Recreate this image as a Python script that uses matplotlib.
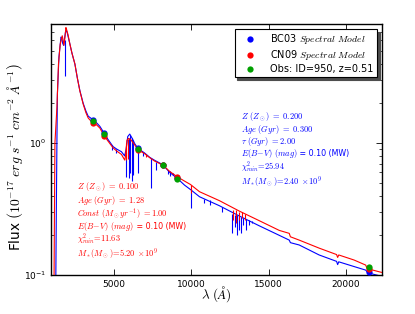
import matplotlib
matplotlib.use("Agg")
import matplotlib.pyplot as plt
from matplotlib.ticker import LogLocator, FixedLocator, LogFormatterSciNotation, NullFormatter

plt.rcParams['mathtext.fontset'] = 'cm'
plt.rcParams['font.family'] = 'DejaVu Sans'

# ---- BC03 model (blue) continuum ----
bc_wl = [1250, 1290, 1330, 1360, 1460, 1590, 1640, 1700, 1760, 1800, 1880, 1930, 2000,
         2170, 2300, 2490, 2650, 2810, 3025, 3200, 3346, 3500, 3670, 3900, 4099, 4376,
         4614, 4955, 5190, 5495, 5700, 5800, 5900, 6030, 6200, 6350, 6564, 6995, 7317,
         7640, 8173, 8604, 9100, 9569, 10000, 10534, 11821, 13108, 14395, 15680, 16325,
         16400, 16969, 18255, 19380, 19450, 19520, 20510, 21262, 21400, 22117, 22400]
bc_flux = [0.07, 0.3, 1.05, 2.35, 4.5, 6.35, 6.3, 5.7, 5.5, 6.0, 6.9, 7.2, 6.8,
           5.6, 4.8, 3.97, 3.1, 2.5, 2.0, 1.75, 1.6, 1.55, 1.5, 1.42, 1.34, 1.19,
           1.07, 0.94, 0.9, 0.86, 0.8, 0.9, 1.12, 1.17, 1.08, 0.99, 0.91, 0.84, 0.78,
           0.74, 0.685, 0.6, 0.54, 0.48, 0.44, 0.392, 0.335, 0.28, 0.236, 0.2, 0.184,
           0.176, 0.169, 0.142, 0.127, 0.12, 0.126, 0.116, 0.109, 0.104, 0.099, 0.097]

# BC03 absorption features: wavelength, top, bottom
bc_line_wl = [1830, 4300, 4860, 5170, 5770, 5950, 6030, 6150, 6260, 6564, 6870, 7381, 7748,
              8500, 8660, 8816, 10000, 10830, 11200, 12000,
              12660, 12850, 12980, 13110, 13240, 13370, 13560, 13750, 13940]
bc_line_top = [6.0, 1.2, 0.96, 0.9, 0.85, 1.1, 1.15, 1.1, 1.05, 0.91, 0.86, 0.77, 0.72,
               0.62, 0.61, 0.59, 0.45, 0.38, 0.37, 0.33,
               0.29, 0.285, 0.283, 0.28, 0.275, 0.27, 0.265, 0.26, 0.255]
bc_line_bot = [3.2, 1.1, 0.88, 0.84, 0.555, 0.54, 0.59, 0.52, 0.57, 0.59, 0.8, 0.456, 0.62,
               0.58, 0.56, 0.57, 0.32, 0.35, 0.34, 0.3,
               0.21, 0.23, 0.2, 0.22, 0.21, 0.24, 0.22, 0.24, 0.25]

# ---- CN09 model (red) continuum ----
cn_wl = [1140, 1170, 1200, 1330, 1430, 1540, 1673, 1720, 1780, 1840, 1910, 1960, 2050,
         2170, 2300, 2490, 2650, 2810, 3025, 3200, 3346, 3500, 3670, 3900, 4099, 4376,
         4614, 4955, 5190, 5495, 5708, 5760, 5850, 5950, 6100, 6350, 6564, 6995, 7317,
         7640, 8173, 8604, 9100, 9569, 9955, 10534, 11821, 13108, 14395, 15680, 16325,
         16400, 16969, 18255, 19380, 19450, 19520, 20510, 21262, 21350, 22117, 22400]
cn_flux = [0.08, 0.3, 1.0, 1.87, 3.97, 5.6, 6.5, 6.1, 5.5, 6.2, 7.5, 7.2, 6.6,
           5.6, 4.8, 3.97, 3.1, 2.48, 1.97, 1.7, 1.55, 1.48, 1.43, 1.37, 1.3, 1.14,
           1.04, 0.92, 0.87, 0.82, 0.743, 0.8, 1.05, 1.085, 1.06, 0.97, 0.89, 0.83, 0.775,
           0.73, 0.68, 0.61, 0.555, 0.515, 0.485, 0.428, 0.366, 0.305, 0.258, 0.218, 0.207,
           0.195, 0.184, 0.16, 0.143, 0.136, 0.142, 0.13, 0.119, 0.112, 0.106, 0.104]

cn_line_wl = [5790, 5900, 7100, 10000, 12700, 12900, 13100, 13300, 13500]
cn_line_top = [1.0, 1.08, 0.83, 0.48, 0.31, 0.31, 0.30, 0.30, 0.29]
cn_line_bot = [0.74, 0.76, 0.79, 0.42, 0.26, 0.25, 0.26, 0.27, 0.26]

# ---- photometry ----
band_wl = [3670, 4376, 6564, 8173, 9100, 21474]
obs_flux = [1.475, 1.17, 0.896, 0.681, 0.533, 0.116]
bc_phot = [1.5, 1.19, 0.91, 0.685, 0.545, 0.106]
cn_phot = [1.43, 1.14, 0.89, 0.68, 0.555, 0.111]

legend_labels = [r"BC03 $Spectral\ Model$", r"CN09 $Spectral\ Model$", "Obs: ID=950, z=0.51"]

fig = plt.figure(figsize=(4.15, 3.14), dpi=100)
ax = fig.add_axes([0.123, 0.124, 0.797, 0.800])

blue = '#0000ff'
red = '#ff0000'
ax.plot(bc_wl, bc_flux, color=blue, lw=0.8, zorder=2)
ax.vlines(bc_line_wl, bc_line_bot, bc_line_top, color=blue, lw=0.8, zorder=2)
ax.plot(cn_wl, cn_flux, color=red, lw=0.8, zorder=3)
ax.vlines(cn_line_wl, cn_line_bot, cn_line_top, color=red, lw=0.8, zorder=3)

ax.plot(band_wl, bc_phot, 'o', color=blue, ms=4.5, mec='none', zorder=4, label=legend_labels[0])
ax.plot(band_wl, cn_phot, 'o', color=red, ms=4.5, mec='none', zorder=5, label=legend_labels[1])
ax.plot(band_wl, obs_flux, 'o', color='#00a000', ms=4.5, mec='none', zorder=6, label=legend_labels[2])

ax.set_yscale('log')
ax.set_xlim(950, 22300)
ax.set_ylim(0.1, 8.0)
ax.set_xticks([5000, 10000, 15000, 20000])
ax.yaxis.set_major_locator(FixedLocator([0.1, 1.0]))
ax.yaxis.set_major_formatter(LogFormatterSciNotation())
ax.yaxis.set_minor_locator(LogLocator(base=10, subs=range(2, 10)))
ax.yaxis.set_minor_formatter(NullFormatter())
ax.tick_params(which='both', direction='in', top=True, right=True, labelsize=6.5)
ax.tick_params(which='major', length=4, width=0.6)
ax.tick_params(which='minor', length=2, width=0.5)
for s in ax.spines.values():
    s.set_linewidth(1.0)

ax.set_xlabel(r"$\lambda\ (\AA)$", fontsize=9.5)
ax.xaxis.set_label_coords(0.5, -0.035)
ax.set_ylabel(r"Flux $\left(10^{-17}\ erg\ s^{-1}\ cm^{-2}\ \AA^{-1}\right)$", fontsize=9.8)
ax.yaxis.set_label_coords(-0.08, 0.47)

leg = ax.legend(loc='upper right', fontsize=7, numpoints=1,
                shadow={'color': '0.3', 'alpha': 1.0}, fancybox=False,
                handletextpad=0.9, borderpad=0.35, labelspacing=0.2, handlelength=2.4,
                borderaxespad=0.5)
leg.get_frame().set_edgecolor('black')
leg.get_frame().set_linewidth(0.8)

def px2ax(x, y):
    return (x - 51) / 331.0, (275 - y) / 251.0

fs = 6.0
blue_txt = [
    (116.5, r"$Z\ (Z_\odot)\ =\ 0.200$"),
    (129.5, r"$Age\ (Gyr)\ =\ 0.300$"),
    (141.7, r"$\tau\ (Gyr)\ =2.00$"),
    (154.0, None),
    (167.3, r"$\chi^2_{min}\!=\!25.94$"),
    (181.3, r"$M_*(M_\odot)\!=\!2.40\ \times\!10^9$"),
]
for y, s in blue_txt:
    xa, ya = px2ax(241, y)
    if s is None:
        t = ax.text(xa, ya, r"$E(B\!-\!V)\ (mag)$", color=blue, fontsize=fs, transform=ax.transAxes, va='center')
        ax.annotate(" = 0.10 (MW)", xycoords=t, xy=(1, 0.5), va='center', color=blue, fontsize=fs - 0.3)
    else:
        ax.text(xa, ya, s, color=blue, fontsize=fs, transform=ax.transAxes, va='center')

red_txt = [
    (186.5, r"$Z\ (Z_\odot)\ =\ 0.100$"),
    (200.2, r"$Age\ (Gyr)\ =\ 1.28$"),
    (213.5, r"$Const\ (M_\odot yr^{-1})\ =1.00$"),
    (226.3, None),
    (239.5, r"$\chi^2_{min}\!=\!11.63$"),
    (253.5, r"$M_*(M_\odot)\!=\!5.20\ \times\!10^9$"),
]
for y, s in red_txt:
    xa, ya = px2ax(77, y)
    if s is None:
        t = ax.text(xa, ya, r"$E(B\!-\!V)\ (mag)$", color=red, fontsize=fs, transform=ax.transAxes, va='center')
        ax.annotate(" = 0.10 (MW)", xycoords=t, xy=(1, 0.5), va='center', color=red, fontsize=fs - 0.3)
    else:
        ax.text(xa, ya, s, color=red, fontsize=fs, transform=ax.transAxes, va='center')

fig.savefig("out.png", dpi=100)
